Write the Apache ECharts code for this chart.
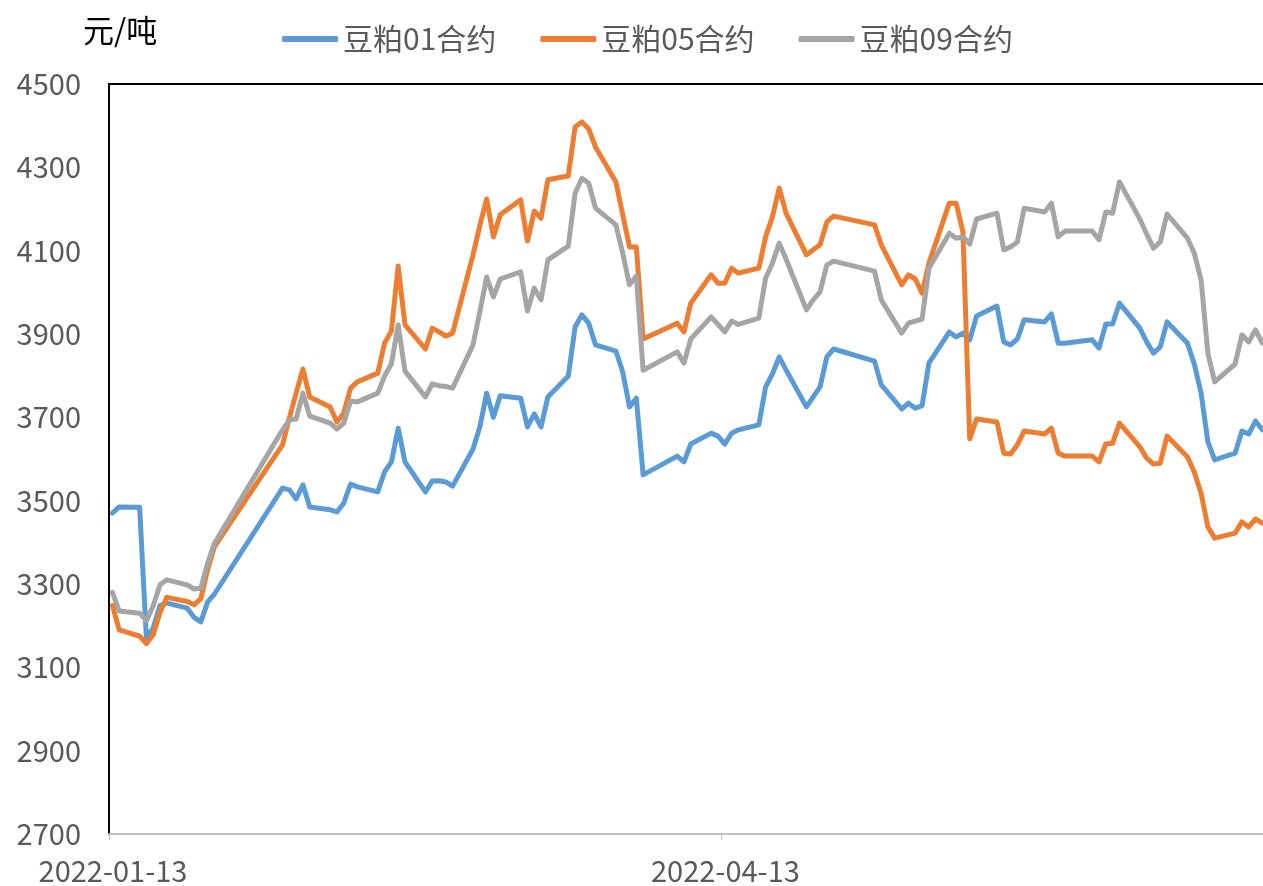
<!DOCTYPE html>
<html>
<head>
<meta charset="utf-8">
<title>豆粕合约价格</title>
<script src="https://cdn.jsdelivr.net/npm/echarts@6/dist/echarts.min.js"></script>
<style>
  html, body { margin: 0; padding: 0; background: #fff; }
  #chart { width: 1263px; height: 886px; }
</style>
</head>
<body>
<div id="chart"></div>
<script>
// trading days, Jan 13 - Jul 1 2022
const dates = [
  '2022-01-13','2022-01-14','2022-01-17','2022-01-18','2022-01-19','2022-01-20','2022-01-21',
  '2022-01-24','2022-01-25','2022-01-26','2022-01-27','2022-01-28',
  '2022-02-07','2022-02-08','2022-02-09','2022-02-10','2022-02-11','2022-02-14','2022-02-15',
  '2022-02-16','2022-02-17','2022-02-18','2022-02-21','2022-02-22','2022-02-23','2022-02-24',
  '2022-02-25','2022-02-28',
  '2022-03-01','2022-03-02','2022-03-03','2022-03-04','2022-03-07','2022-03-08','2022-03-09',
  '2022-03-10','2022-03-11','2022-03-14','2022-03-15','2022-03-16','2022-03-17','2022-03-18',
  '2022-03-21','2022-03-22','2022-03-23','2022-03-24','2022-03-25','2022-03-28','2022-03-29',
  '2022-03-30','2022-03-31',
  '2022-04-01','2022-04-06','2022-04-07','2022-04-08','2022-04-11','2022-04-12','2022-04-13',
  '2022-04-14','2022-04-15','2022-04-18','2022-04-19','2022-04-20','2022-04-21','2022-04-22',
  '2022-04-25','2022-04-26','2022-04-27','2022-04-28','2022-04-29',
  '2022-05-05','2022-05-06','2022-05-09','2022-05-10','2022-05-11','2022-05-12','2022-05-13',
  '2022-05-16','2022-05-17','2022-05-18','2022-05-19','2022-05-20','2022-05-23','2022-05-24',
  '2022-05-25','2022-05-26','2022-05-27','2022-05-30','2022-05-31',
  '2022-06-01','2022-06-02','2022-06-06','2022-06-07','2022-06-08','2022-06-09','2022-06-10',
  '2022-06-13','2022-06-14','2022-06-15','2022-06-16','2022-06-17','2022-06-20','2022-06-21',
  '2022-06-22','2022-06-23','2022-06-24','2022-06-27','2022-06-28','2022-06-29','2022-06-30',
  '2022-07-01'
]

// 豆粕01合约
const m01 = [
  3470, 3485, 3484, 3170, 3195, 3248, 3254, 3242, 3220, 3209, 3257, 3276,
  3530, 3526, 3504, 3538, 3485, 3478, 3473, 3494, 3540, 3533, 3521, 3569, 3593, 3674, 3593, 3521,
  3547, 3548, 3545, 3535, 3624, 3677, 3758, 3700, 3752, 3746, 3677, 3708, 3677, 3749,
  3799, 3917, 3946, 3926, 3874, 3859, 3809, 3725, 3746,
  3562, 3607, 3593, 3636, 3662, 3655, 3636, 3662, 3670, 3682, 3773, 3804, 3845, 3814,
  3725, 3749, 3773, 3845, 3864,
  3835, 3778, 3720, 3734, 3722, 3728, 3830, 3905, 3893, 3902, 3886, 3943, 3967, 3881,
  3874, 3888, 3934, 3929, 3948,
  3878, 3878, 3886, 3866, 3924, 3924, 3974, 3914, 3881, 3854, 3869, 3929, 3878, 3828,
  3758, 3641, 3598, 3614, 3667, 3660, 3691,
  3670
]

// 豆粕05合约
const m05 = [
  3248, 3190, 3175, 3157, 3178, 3232, 3268, 3258, 3250, 3265, 3335, 3390,
  3634, 3698, 3758, 3816, 3749, 3725, 3689, 3710, 3770, 3785, 3806, 3878, 3907, 4063, 3922, 3864,
  3914, 3905, 3895, 3902, 4090, 4160, 4224, 4133, 4186, 4222, 4123, 4195, 4178, 4270,
  4279, 4397, 4409, 4392, 4349, 4265, 4186, 4109, 4109,
  3888, 3926, 3905, 3974, 4042, 4022, 4022, 4058, 4046, 4058, 4133, 4181, 4250, 4190,
  4090, 4102, 4114, 4169, 4183,
  4162, 4114, 4018, 4042, 4032, 3998, 4070, 4214, 4214, 4145, 3648, 3696, 3689, 3614,
  3612, 3634, 3667, 3660, 3674,
  3614, 3607, 3607, 3593, 3636, 3638, 3686, 3629, 3602, 3588, 3590, 3655, 3605, 3569,
  3518, 3437, 3410, 3422, 3449, 3437, 3456,
  3446
]

// 豆粕09合约
const m09 = [
  3280, 3235, 3230, 3212, 3248, 3298, 3310, 3298, 3288, 3290, 3350, 3398,
  3670, 3694, 3696, 3758, 3703, 3686, 3672, 3686, 3739, 3737, 3758, 3799, 3828, 3922, 3811, 3749,
  3780, 3776, 3774, 3770, 3874, 3953, 4037, 3989, 4032, 4049, 3955, 4010, 3982, 4078,
  4111, 4238, 4274, 4262, 4202, 4162, 4094, 4018, 4039,
  3813, 3857, 3830, 3888, 3941, 3923, 3905, 3931, 3923, 3938, 4034, 4070, 4118, 4080,
  3958, 3982, 4001, 4066, 4075,
  4051, 3982, 3902, 3926, 3931, 3936, 4058, 4142, 4130, 4133, 4116, 4176, 4190, 4102,
  4109, 4121, 4202, 4193, 4214,
  4133, 4147, 4147, 4126, 4193, 4190, 4265, 4176, 4140, 4106, 4121, 4188, 4130, 4094,
  4030, 3854, 3785, 3828, 3898, 3881, 3910,
  3878
]

const seriesNames = ['豆粕01合约', '豆粕05合约', '豆粕09合约']
const colors = ['#5B9BD5', '#ED7D31', '#A5A5A5']

const DAY = 86400000
const start = Date.UTC(2022, 0, 13)
const font = 'Noto Sans CJK SC'

// x position in days from start; points sit in the middle of their day
const dayOf = s => {
  const p = s.split('-')
  return (Date.UTC(+p[0], +p[1] - 1, +p[2]) - start) / DAY + 0.5
}
const pad = n => (n < 10 ? '0' : '') + n
const dateLabel = v => {
  const d = new Date(start + Math.round(v) * DAY)
  return d.getUTCFullYear() + '-' + pad(d.getUTCMonth() + 1) + '-' + pad(d.getUTCDate())
}

const chart = echarts.init(document.getElementById('chart'))

chart.setOption({
  animation: false,
  color: colors,
  textStyle: { fontFamily: font },
  title: {
    text: '元/吨',
    left: 78,
    top: 10,
    textStyle: { fontSize: 31, fontWeight: 'normal', color: '#000', fontFamily: font }
  },
  legend: {
    left: 277,
    top: 19,
    icon: 'roundRect',
    itemWidth: 56,
    itemHeight: 6,
    itemGap: 44,
    textStyle: { fontSize: 30, color: '#595959', fontFamily: font },
    data: seriesNames
  },
  grid: {
    left: 109,
    right: 0,
    top: 84,
    bottom: 52
  },
  xAxis: [{
    type: 'value',
    min: 0,
    max: 169.6,
    interval: 90,
    splitLine: { show: false },
    axisLine: { show: true, lineStyle: { color: '#BFBFBF', width: 2 } },
    axisTick: { show: true, length: 6, lineStyle: { color: '#BFBFBF' } },
    axisLabel: {
      margin: 22,
      fontSize: 29,
      color: '#595959',
      padding: [0, 0, 0, 8],
      showMaxLabel: false,
      formatter: dateLabel
    }
  }, {
    // top frame line only
    type: 'value',
    position: 'top',
    min: 0,
    max: 169.6,
    axisLine: { show: true, lineStyle: { color: '#000', width: 2 } },
    axisTick: { show: false },
    axisLabel: { show: false },
    splitLine: { show: false }
  }],
  yAxis: {
    type: 'value',
    min: 2700,
    max: 4500,
    interval: 200,
    splitLine: { show: false },
    axisLine: { show: true, lineStyle: { color: '#000', width: 2 } },
    axisTick: { show: false },
    axisLabel: { margin: 28, fontSize: 29, color: '#595959', formatter: v => String(v) }
  },
  series: [m01, m05, m09].map((vals, i) => ({
    name: seriesNames[i],
    type: 'line',
    showSymbol: false,
    symbol: 'none',
    lineStyle: { width: 5, color: colors[i], cap: 'round', join: 'round' },
    data: dates.map((d, j) => [dayOf(d), vals[j]])
  }))
})
</script>
</body>
</html>
